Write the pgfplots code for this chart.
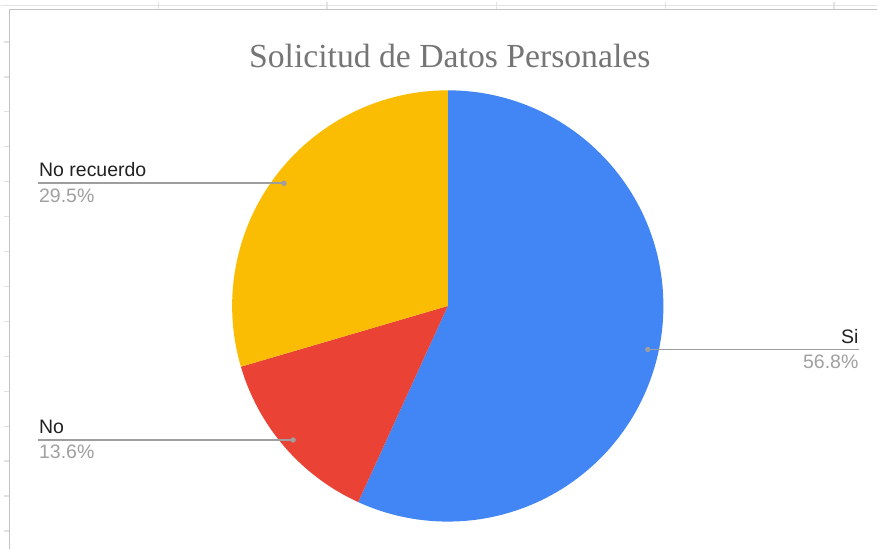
\documentclass[border=0pt]{standalone}
\usepackage{pgfplots}
\usepackage{pgfplotstable}
\pgfplotsset{compat=1.18}
\usepackage{fontspec}
\setmainfont{Liberation Sans}
\newfontfamily\titlefont{Liberation Serif}

\definecolor{gblue}{HTML}{4285F4}
\definecolor{gred}{HTML}{EA4335}
\definecolor{gyellow}{HTML}{FBBC04}
\definecolor{leader}{HTML}{9E9E9E}
\definecolor{labtxt}{HTML}{222222}
\definecolor{pcttxt}{HTML}{A0A0A0}
\definecolor{titletxt}{HTML}{757575}
\definecolor{framec}{HTML}{C2C2C2}
\definecolor{gridc}{HTML}{E2E2E2}

% answers (counts), clockwise from 12 o'clock
\pgfplotstableread{
label value
Si 25
No 6
{No recuerdo} 13
}\piedata

\begin{document}
\begin{tikzpicture}
\pgfplotstablegetelem{0}{value}\of\piedata \edef\vA{\pgfplotsretval}
\pgfplotstablegetelem{1}{value}\of\piedata \edef\vB{\pgfplotsretval}
\pgfplotstablegetelem{2}{value}\of\piedata \edef\vC{\pgfplotsretval}
\pgfplotstablegetelem{0}{label}\of\piedata \edef\lA{\pgfplotsretval}
\pgfplotstablegetelem{1}{label}\of\piedata \edef\lB{\pgfplotsretval}
\pgfplotstablegetelem{2}{label}\of\piedata \edef\lC{\pgfplotsretval}
\pgfmathsetmacro\tot{\vA+\vB+\vC}
\pgfmathsetmacro\aA{90-360*\vA/\tot}
\pgfmathsetmacro\aB{\aA-360*\vB/\tot}
\pgfmathsetmacro\aC{\aB-360*\vC/\tot}
\pgfmathsetmacro\mA{(90+\aA)/2}
\pgfmathsetmacro\mB{(\aA+\aB)/2}
\pgfmathsetmacro\mC{(\aB+\aC)/2}
\pgfmathsetmacro\pA{100*\vA/\tot}
\pgfmathsetmacro\pB{100*\vB/\tot}
\pgfmathsetmacro\pC{100*\vC/\tot}
% centre / radius in canvas px (1 px = 0.01cm)
\def\cx{448}\def\cy{243.5}\def\R{216}\def\Rc{2.16cm}\def\rd{205}
\pgfmathsetmacro\xA{\cx+\rd*cos(\mA)}\pgfmathsetmacro\yA{\cy+\rd*sin(\mA)}
\pgfmathsetmacro\xB{\cx+\rd*cos(\mB)}\pgfmathsetmacro\yB{\cy+\rd*sin(\mB)}
\pgfmathsetmacro\xC{\cx+\rd*cos(\mC)}\pgfmathsetmacro\yC{\cy+\rd*sin(\mC)}
\newcommand\pct[1]{\pgfmathprintnumber[fixed,fixed zerofill,precision=1,assume math mode=true]{#1}\%}
\begin{axis}[
  at={(0,0)}, anchor=south west,
  scale only axis, width=8.78cm, height=5.5cm,
  xmin=0, xmax=878, ymin=0, ymax=550,
  hide axis, clip=false,
]
\fill[white] (axis cs:0,0) rectangle (axis cs:878,550);
% sheet frame
\draw[gridc, line width=0.3pt] (axis cs:0,544) -- (axis cs:878,544);
\pgfplotsinvokeforeach{158,327,497,666,835}{
  \draw[gridc, line width=0.4pt] (axis cs:#1,540) -- (axis cs:#1,548);
}
\pgfplotsinvokeforeach{508,473,438,403,368,333,298,263,228,193,158,123,88,53,18}{
  \draw[gridc, line width=0.4pt] (axis cs:3,#1) -- (axis cs:9,#1);
}
\draw[framec, line width=0.55pt] (axis cs:9,0) -- (axis cs:9,540.5) -- (axis cs:878,540.5);

% slices
\fill[gblue] (axis cs:\cx,\cy) -- (axis cs:\cx,\cy+\R)
  arc[start angle=90, end angle=\aA, radius=\Rc] -- cycle;
\fill[gred] (axis cs:\cx,\cy) -- ++(\aA:\Rc)
  arc[start angle=\aA, end angle=\aB, radius=\Rc] -- cycle;
\fill[gyellow] (axis cs:\cx,\cy) -- ++(\aB:\Rc)
  arc[start angle=\aB, end angle=\aC, radius=\Rc] -- cycle;

% leaders
\draw[leader, line width=0.5pt] (axis cs:\xA,\yA) -- (axis cs:860,\yA);
\draw[leader, line width=0.5pt] (axis cs:\xB,\yB) -- (axis cs:38,\yB);
\draw[leader, line width=0.5pt] (axis cs:\xC,\yC) -- (axis cs:38,\yC);
\fill[leader] (axis cs:\xA,\yA) circle[radius=0.027cm];
\fill[leader] (axis cs:\xB,\yB) circle[radius=0.027cm];
\fill[leader] (axis cs:\xC,\yC) circle[radius=0.027cm];

\tikzset{lab/.style={inner sep=0, font=\fontsize{5.55}{6.5}\selectfont}}
\node[lab, labtxt, anchor=base east] at (axis cs:860,\yA+5.5) {\lA};
\node[lab, pcttxt, anchor=base east] at (axis cs:860,\yA-19) {\pct{\pA}};
\node[lab, labtxt, anchor=base west] at (axis cs:38,\yB+6) {\lB};
\node[lab, pcttxt, anchor=base west] at (axis cs:38,\yB-19) {\pct{\pB}};
\node[lab, labtxt, anchor=base west] at (axis cs:38,\yC+7) {\lC};
\node[lab, pcttxt, anchor=base west] at (axis cs:38,\yC-19) {\pct{\pC}};

\node[inner sep=0, anchor=base, text=titletxt, font=\titlefont\fontsize{9.6}{11}\selectfont]
  at (axis cs:450,482) {Solicitud de Datos Personales};
\end{axis}
\end{tikzpicture}
\end{document}
